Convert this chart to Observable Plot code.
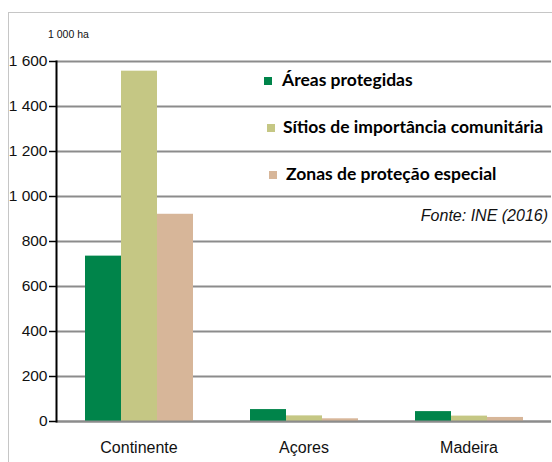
<!DOCTYPE html>
<html>
<head>
<meta charset="utf-8">
<script src="https://cdn.jsdelivr.net/npm/d3@7"></script>
<script src="https://cdn.jsdelivr.net/npm/@observablehq/plot@0.6"></script>
<style>
  html, body { margin: 0; padding: 0; background: #fff; }
  #wrap { position: relative; width: 552px; height: 462px; overflow: hidden; font-family: "Liberation Sans", Arial, sans-serif; }
  #box { position: absolute; left: 8px; top: 12px; width: 600px; height: 600px; border-left: 1px solid #c6c6c6; border-top: 1px solid #c6c6c6; }
  #chart { position: absolute; left: 0; top: 0; }
  #unit { position: absolute; left: 48px; top: 28px; font-size: 10.5px; line-height: 12px; color: #111; }
  .lg { position: absolute; font-family: Lato, "Open Sans", sans-serif; font-weight: 700; font-size: 17.5px; line-height: 20px; color: #000; white-space: nowrap; }
  .sw { position: absolute; width: 8px; height: 8px; }
  #fonte { position: absolute; right: 4px; top: 207px; font-size: 16px; line-height: 18px; font-style: italic; color: #111; white-space: nowrap; }
</style>
</head>
<body>
<div id="wrap">
  <div id="box"></div>
  <div id="chart"></div>
  <div id="unit"></div>
  <div id="legend"></div>
  <div id="fonte"></div>
</div>
<script>
const regions = ["Continente", "Açores", "Madeira"];
const series = ["Áreas protegidas", "Sítios de importância comunitária", "Zonas de proteção especial"];
const areasProtegidas = [735, 53, 44];
const sitiosImportancia = [1557, 25, 24];
const zonasProtecao = [921, 12, 18];
const yTicks = [0, 200, 400, 600, 800, 1000, 1200, 1400, 1600];
const colors = ["#00844a", "#c5c784", "#d7b699"];
const unitLabel = "1 000 ha";
const sourceLabel = "Fonte: INE (2016)";

const valuesBySeries = [areasProtegidas, sitiosImportancia, zonasProtecao];
const data = [];
regions.forEach((r, i) => series.forEach((s, j) => data.push({region: r, series: s, value: valuesBySeries[j][i]})));

const fmt = d => d3.format(",")(d).replace(/,/g, " ");

const chart = Plot.plot({
  width: 552,
  height: 462,
  marginTop: 61,
  marginBottom: 41,
  marginLeft: 56,
  marginRight: 1,
  style: {fontFamily: "'Liberation Sans', Arial, sans-serif", background: "transparent", color: "#111"},
  fx: {domain: regions, padding: 0, label: null, axis: null},
  x: {domain: series, paddingInner: 0, paddingOuter: 0.75, axis: null},
  y: {domain: [0, 1600], axis: null},
  color: {domain: series, range: colors},
  marks: [
    Plot.ruleY(yTicks, {stroke: "#8c8c8c", strokeWidth: 2}),
    Plot.barY(data, {fx: "region", x: "series", y: "value", fill: "series"}),
    Plot.ruleY([0], {stroke: "#8c8c8c", strokeWidth: 2}),
    Plot.axisY({ticks: yTicks, tickFormat: fmt, tickSize: 7, tickPadding: 2, fontSize: 15.5, stroke: "#000", strokeWidth: 1.5, label: null}),
    Plot.frame({anchor: "left", facetAnchor: "left", stroke: "#000", strokeWidth: 2}),
    Plot.axisFx({anchor: "bottom", tickSize: 0, tickPadding: 20, fontSize: 16, label: null})
  ]
});
document.getElementById("chart").appendChild(chart);

document.getElementById("unit").textContent = unitLabel;
document.getElementById("fonte").textContent = sourceLabel;

const legendPos = [
  {sx: 264, sy: 77, tx: 282, ty: 70},
  {sx: 267, sy: 124, tx: 283, ty: 117},
  {sx: 269, sy: 171, tx: 286, ty: 164}
];
const legend = document.getElementById("legend");
series.forEach((s, i) => {
  const sw = document.createElement("div");
  sw.className = "sw";
  sw.style.left = legendPos[i].sx + "px";
  sw.style.top = legendPos[i].sy + "px";
  sw.style.background = colors[i];
  legend.appendChild(sw);
  const t = document.createElement("div");
  t.className = "lg";
  t.style.left = legendPos[i].tx + "px";
  t.style.top = legendPos[i].ty + "px";
  t.textContent = s;
  legend.appendChild(t);
});
</script>
</body>
</html>
